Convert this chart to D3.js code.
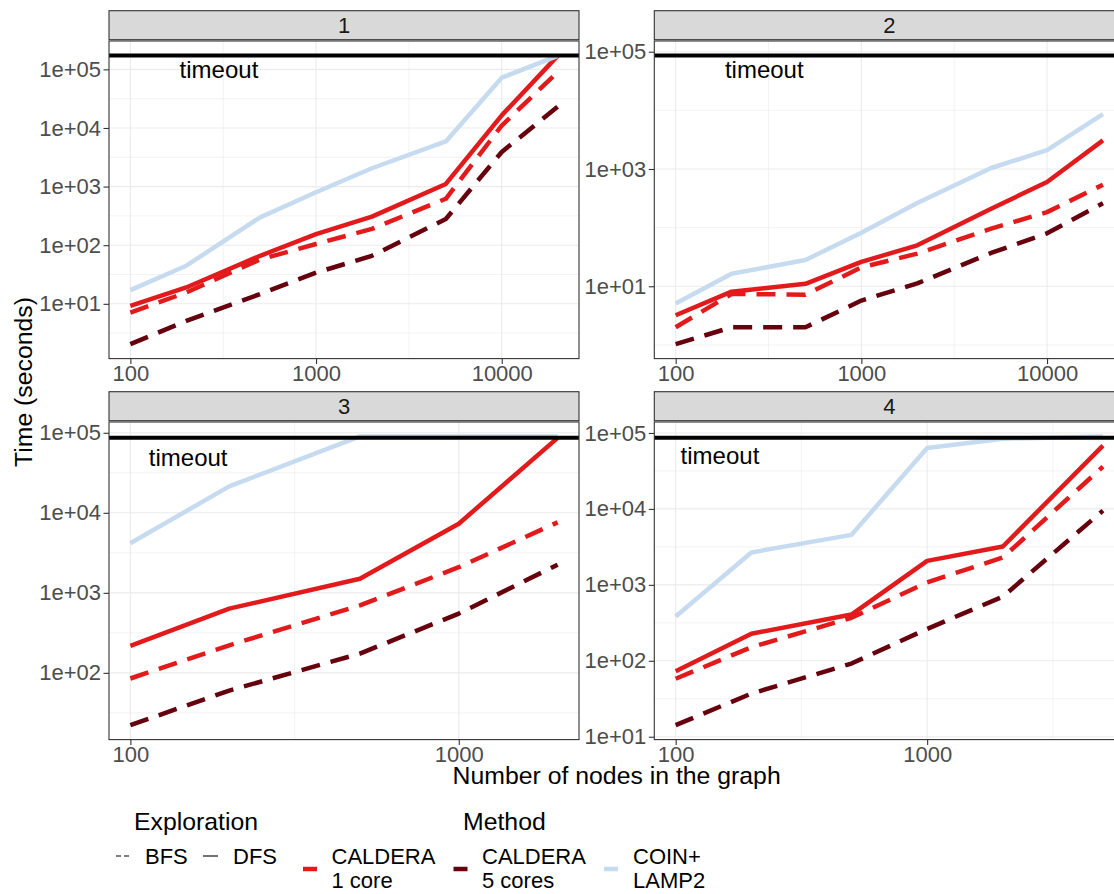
<!DOCTYPE html>
<html>
<head>
<meta charset="utf-8">
<script src="https://cdn.jsdelivr.net/npm/d3@7"></script>
<style>
  body { margin: 0; background: #fff; }
  text { font-family: "Liberation Sans", Arial, sans-serif; }
</style>
</head>
<body>
<svg id="chart" width="1114" height="894"></svg>
<script>
// ---- data -------------------------------------------------------------
const facetLabels = ["1", "2", "3", "4"];
const timeouts = [172800, 86400, 86400, 86400];

const nodes1 = [100, 200, 500, 1000, 2000, 5000, 10000, 20000];
const nodes2 = [100, 200, 500, 1000, 2000, 5000, 10000, 20000];
const nodes3 = [100, 200, 500, 1000, 2000];
const nodes4 = [100, 200, 500, 1000, 2000, 5000];

// facet 1
const f1Caldera1Bfs = [7.1, 15.6, 57, 105, 190, 620, 11000, 90000];
const f1Caldera1Dfs = [9.2, 19, 66, 155, 307, 1110, 16400, 170000];
const f1Caldera5Bfs = [2.05, 5.1, 14.7, 34, 66, 280, 3900, 23000];
const f1CoinDfs     = [17.1, 44.7, 299, 800, 2055, 5890, 72100, 170000];
// facet 2
const f2Caldera1Bfs = [2.0, 7.4, 7.2, 21, 36, 96, 184, 540];
const f2Caldera1Dfs = [3.2, 8.1, 11, 26, 50, 210, 600, 3080];
const f2Caldera5Bfs = [1.03, 2.0, 2.0, 5.7, 11.2, 37, 80, 260];
const f2CoinDfs     = [5.1, 16.3, 28, 82, 263, 1040, 2090, 8600];
// facet 3
const f3Caldera1Bfs = [85, 221, 698, 2090, 7600];
const f3Caldera1Dfs = [218, 634, 1500, 7310, 86400];
const f3Caldera5Bfs = [22.2, 60, 174, 550, 2250];
const f3CoinDfs     = [4170, 21400, 90000, 90000, 90000];
// facet 4
const f4Caldera1Bfs = [58, 151, 368, 1080, 2290, 36000];
const f4Caldera1Dfs = [72.7, 227, 406, 2070, 3200, 68000];
const f4Caldera5Bfs = [14.2, 37, 92, 263, 700, 9500];
const f4CoinDfs     = [383, 2670, 4550, 63500, 84000, 90000];

// axis breaks and "timeout" annotation position per facet
const xBreaks = [[100, 1000, 10000], [100, 1000, 10000], [100, 1000], [100, 1000]];
const yBreaks = [[1e1, 1e2, 1e3, 1e4, 1e5], [1e1, 1e3, 1e5], [1e2, 1e3, 1e4, 1e5], [1e1, 1e2, 1e3, 1e4, 1e5]];
const timeoutLabelX = [300, 300, 150, 150];
const timeoutLabelY = [1e5, 5e4, 5e4, 5e4];

const methodNames = ["CALDERA\n1 core", "CALDERA\n5 cores", "COIN+\nLAMP2"];
const methodColors = ["#E31A1C", "#67000D", "#C6DBEF"];
const explorationNames = ["BFS", "DFS"];

// ---- assemble facets ---------------------------------------------------
const facetNodes = [nodes1, nodes2, nodes3, nodes4];
const facetSeries = [
  [f1Caldera1Bfs, f1Caldera1Dfs, f1Caldera5Bfs, f1CoinDfs],
  [f2Caldera1Bfs, f2Caldera1Dfs, f2Caldera5Bfs, f2CoinDfs],
  [f3Caldera1Bfs, f3Caldera1Dfs, f3Caldera5Bfs, f3CoinDfs],
  [f4Caldera1Bfs, f4Caldera1Dfs, f4Caldera5Bfs, f4CoinDfs]
];
// method index and exploration for each series slot
const seriesMethod = [0, 0, 1, 2];
const seriesExplore = ["BFS", "DFS", "BFS", "DFS"];

// ---- layout ------------------------------------------------------------
const svg = d3.select("#chart");
const colX = [109, 654.3];
const rowY = [10.7, 391.7];
const panelW = 470, stripH = 29, panelGap = 1.3, panelH = 317.6;
const lineW = 4.5;
const dash = "19,11";

function expandLog(lo, hi) {
  const a = Math.log10(lo), b = Math.log10(hi), e = (b - a) * 0.05;
  return [Math.pow(10, a - e), Math.pow(10, b + e)];
}
function fmtExp(v) {
  const p = Math.round(Math.log10(v));
  return "1e" + (p < 0 ? "-" : "+") + String(Math.abs(p)).padStart(2, "0");
}
function minorBreaks(breaks, domain) {
  // midpoints (in log space) between consecutive majors, extended by one step on each side
  const logs = breaks.map(Math.log10);
  const step = logs.length > 1 ? logs[1] - logs[0] : 1;
  const ext = [logs[0] - step, ...logs, logs[logs.length - 1] + step];
  const out = [];
  for (let i = 0; i < ext.length - 1; i++) {
    const m = Math.pow(10, (ext[i] + ext[i + 1]) / 2);
    if (m >= domain[0] && m <= domain[1]) out.push(m);
  }
  return out;
}

facetLabels.forEach((lab, i) => {
  const cx = colX[i % 2], ry = rowY[Math.floor(i / 2)];
  const top = ry + stripH + panelGap;
  const xs = facetNodes[i];
  const allY = facetSeries[i].flat().concat([timeouts[i]]);

  const xDom = expandLog(d3.min(xs), d3.max(xs));
  const yDom = expandLog(d3.min(allY), d3.max(allY));
  const x = d3.scaleLog().domain(xDom).range([cx, cx + panelW]);
  const y = d3.scaleLog().domain(yDom).range([top + panelH, top]);

  const g = svg.append("g");

  // panel background
  g.append("rect").attr("x", cx).attr("y", top).attr("width", panelW).attr("height", panelH)
    .attr("fill", "#fff");

  // grid
  const grid = g.append("g");
  minorBreaks(yBreaks[i], yDom).forEach(v => grid.append("line")
    .attr("x1", cx).attr("x2", cx + panelW).attr("y1", y(v)).attr("y2", y(v))
    .attr("stroke", "#EBEBEB").attr("stroke-width", 0.6));
  minorBreaks(xBreaks[i], xDom).forEach(v => grid.append("line")
    .attr("y1", top).attr("y2", top + panelH).attr("x1", x(v)).attr("x2", x(v))
    .attr("stroke", "#EBEBEB").attr("stroke-width", 0.6));
  yBreaks[i].forEach(v => grid.append("line")
    .attr("x1", cx).attr("x2", cx + panelW).attr("y1", y(v)).attr("y2", y(v))
    .attr("stroke", "#EBEBEB").attr("stroke-width", 1.1));
  xBreaks[i].forEach(v => grid.append("line")
    .attr("y1", top).attr("y2", top + panelH).attr("x1", x(v)).attr("x2", x(v))
    .attr("stroke", "#EBEBEB").attr("stroke-width", 1.1));

  // series lines
  const line = d3.line().x(d => x(d[0])).y(d => y(d[1]));
  facetSeries[i].forEach((vals, s) => {
    g.append("path")
      .datum(xs.map((n, k) => [n, vals[k]]))
      .attr("d", line)
      .attr("fill", "none")
      .attr("stroke", methodColors[seriesMethod[s]])
      .attr("stroke-width", lineW)
      .attr("stroke-linejoin", "round")
      .attr("stroke-dasharray", seriesExplore[s] === "BFS" ? dash : null);
  });

  // timeout line and label
  g.append("line")
    .attr("x1", cx).attr("x2", cx + panelW)
    .attr("y1", y(timeouts[i])).attr("y2", y(timeouts[i]))
    .attr("stroke", "#000").attr("stroke-width", 4);
  g.append("text")
    .attr("x", x(timeoutLabelX[i])).attr("y", y(timeoutLabelY[i]))
    .attr("dy", "0.36em").attr("text-anchor", "middle")
    .attr("font-size", 24).attr("fill", "#000").text("timeout");

  // panel border
  g.append("rect").attr("x", cx).attr("y", top).attr("width", panelW).attr("height", panelH)
    .attr("fill", "none").attr("stroke", "#333333").attr("stroke-width", 1.1);

  // strip
  g.append("rect").attr("x", cx).attr("y", ry).attr("width", panelW).attr("height", stripH)
    .attr("fill", "#D9D9D9").attr("stroke", "#333333").attr("stroke-width", 1.1);
  g.append("text").attr("x", cx + panelW / 2).attr("y", ry + stripH / 2)
    .attr("dy", "0.36em").attr("text-anchor", "middle")
    .attr("font-size", 22).attr("fill", "#1A1A1A").text(lab);

  // axes
  const xAxis = d3.axisBottom(x).tickValues(xBreaks[i]).tickFormat(d3.format("d"))
    .tickSizeInner(5.5).tickSizeOuter(0).tickPadding(1.5);
  const ax = g.append("g").attr("transform", `translate(0,${top + panelH})`).call(xAxis);
  const yAxis = d3.axisLeft(y).tickValues(yBreaks[i]).tickFormat(fmtExp)
    .tickSizeInner(5.5).tickSizeOuter(0).tickPadding(2.5);
  const ay = g.append("g").attr("transform", `translate(${cx},0)`).call(yAxis);
  [ax, ay].forEach(a => {
    a.select(".domain").remove();
    a.selectAll(".tick line").attr("stroke", "#333333").attr("stroke-width", 1.1);
    a.selectAll(".tick text").attr("fill", "#4D4D4D").attr("font-size", 22)
      .attr("font-family", "Liberation Sans, Arial, sans-serif");
  });
});

// ---- axis titles ------------------------------------------------------
svg.append("text").attr("x", (colX[0] + colX[1] + panelW) / 2).attr("y", 784)
  .attr("text-anchor", "middle").attr("font-size", 24.8).attr("fill", "#000")
  .text("Number of nodes in the graph");
svg.append("text").attr("transform", "translate(32,382) rotate(-90)")
  .attr("text-anchor", "middle").attr("font-size", 24.8).attr("fill", "#000")
  .text("Time (seconds)");

// ---- legends ------------------------------------------------------------
const leg = svg.append("g");
leg.append("text").attr("x", 134).attr("y", 830).attr("font-size", 24.8).text("Exploration");
leg.append("text").attr("x", 463).attr("y", 830).attr("font-size", 24.8).text("Method");

const exploreKeyX = [116, 203];
const exploreTextX = [145, 233];
explorationNames.forEach((nm, k) => {
  leg.append("line").attr("x1", exploreKeyX[k]).attr("x2", exploreKeyX[k] + 15)
    .attr("y1", 856).attr("y2", 856).attr("stroke", "#000").attr("stroke-width", 1.1)
    .attr("stroke-dasharray", nm === "BFS" ? "5,3" : null);
  leg.append("text").attr("x", exploreTextX[k]).attr("y", 864).attr("font-size", 22).text(nm);
});

const methodKeyX = [303, 453.5, 604];
const methodTextX = [331.5, 482, 633];
methodNames.forEach((nm, k) => {
  leg.append("line").attr("x1", methodKeyX[k]).attr("x2", methodKeyX[k] + 14)
    .attr("y1", 869).attr("y2", 869).attr("stroke", methodColors[k]).attr("stroke-width", lineW);
  const t = leg.append("text").attr("x", methodTextX[k]).attr("y", 863.5).attr("font-size", 22);
  nm.split("\n").forEach((part, j) => t.append("tspan")
    .attr("x", methodTextX[k]).attr("dy", j === 0 ? 0 : 24).text(part));
});
</script>
</body>
</html>
